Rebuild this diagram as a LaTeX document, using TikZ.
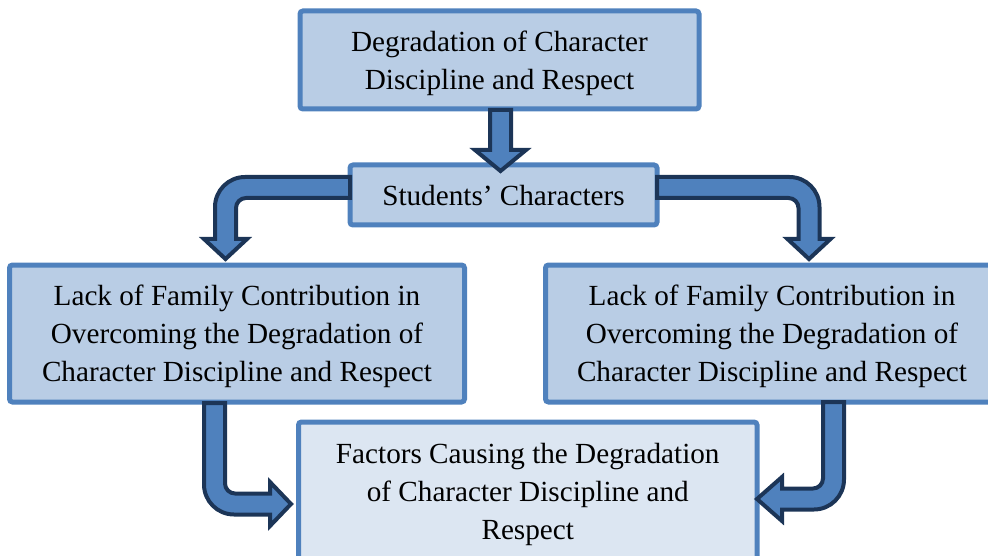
\documentclass[tikz,border=0pt]{standalone}
\usepackage{fontspec}
\setmainfont{Liberation Serif}
\definecolor{boxfill}{HTML}{B9CDE5}
\definecolor{boxfilllight}{HTML}{DCE6F2}
\definecolor{boxline}{HTML}{4F81BD}
\definecolor{arrowfill}{HTML}{4F81BD}
\definecolor{arrowline}{HTML}{1C3557}
\begin{document}
\begin{tikzpicture}[x=1pt,y=-1pt,
  box/.style={draw=boxline, line width=5pt, fill=boxfill, rounded corners=3pt,
    inner sep=0pt, align=center, text depth=0pt, font=\fontsize{29.2}{38}\selectfont},
  blockarrow/.style={draw=arrowline, fill=arrowfill, line width=4pt,
    line join=miter, miter limit=10}]
\useasboundingbox (0,0) rectangle (988,556);
\clip (0,0) rectangle (988,556);

% boxes
\node[box, minimum width=399pt, minimum height=98pt] (top) at (499.5,60)
  {Degradation of Character\\Discipline and Respect};
\node[box, minimum width=307pt, minimum height=60pt] (mid) at (503.5,195)
  {Students’ Characters};
\node[box, minimum width=455pt, minimum height=137pt] (left) at (237,333.5)
  {Lack of Family Contribution in\\Overcoming the Degradation of\\Character Discipline and Respect};
\node[box, minimum width=453pt, minimum height=137pt] (right) at (772,333.5)
  {Lack of Family Contribution in\\Overcoming the Degradation of\\Character Discipline and Respect};
\node[box, fill=boxfilllight, minimum width=458.5pt, minimum height=138pt] (bottom) at (527.75,491)
  {Factors Causing the Degradation\\of Character Discipline and\\Respect};

% top -> mid
\draw[blockarrow] (490,110) -- (490,150) -- (475,150) -- (500.5,171) -- (526,150)
  -- (511,150) -- (511,110) -- cycle;

% mid -> left
\draw[blockarrow] (350,177) -- (245,177) arc[start angle=-90, end angle=-180, radius=30]
  -- (215,239) -- (204,239) -- (225.5,259) -- (247,239) -- (236,239) -- (236,208)
  arc[start angle=180, end angle=270, radius=10] -- (350,198) -- cycle;

% mid -> right
\draw[blockarrow] (657,177) -- (789.5,177) arc[start angle=-90, end angle=0, radius=30]
  -- (819.5,239) -- (830.5,239) -- (809,259) -- (787.5,239) -- (798.5,239) -- (798.5,208)
  arc[start angle=0, end angle=-90, radius=10] -- (657,198) -- cycle;

% left -> bottom
\draw[blockarrow] (204,403) -- (204,484.5) arc[start angle=180, end angle=90, radius=30]
  -- (270,514.5) -- (270,526) -- (291,504) -- (270,482) -- (270,493.5) -- (235,493.5)
  arc[start angle=90, end angle=180, radius=10] -- (225,403) -- cycle;

% right -> bottom
\draw[blockarrow] (844,402) -- (844,479.5) arc[start angle=0, end angle=90, radius=30]
  -- (782,509.5) -- (782,521) -- (757,499) -- (782,477) -- (782,488.5) -- (813,488.5)
  arc[start angle=90, end angle=0, radius=10] -- (823,402) -- cycle;
\end{tikzpicture}
\end{document}
